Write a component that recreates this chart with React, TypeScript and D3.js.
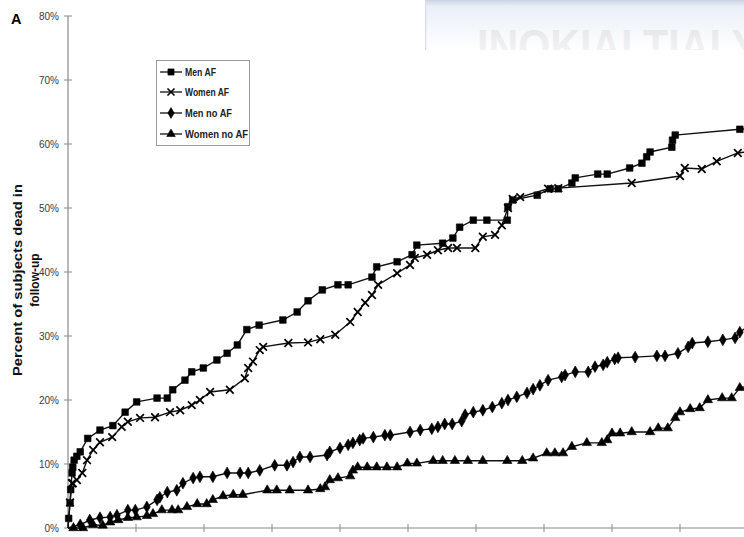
import React, { useEffect, useRef } from 'react';
import * as d3 from 'd3';

// follow-up time in years, percent dead
const menAF: [number, number][] = [
  [0, 0], [0.01, 1.5], [0.03, 3.9], [0.04, 6], [0.06, 8.6], [0.07, 9.5], [0.09, 10.6], [0.13, 11.2],
  [0.18, 11.9], [0.29, 14], [0.47, 15.3], [0.66, 16], [0.84, 18.1], [1.01, 19.7], [1.31, 20.3],
  [1.46, 20.3], [1.54, 21.6], [1.72, 23.1], [1.82, 24.4], [1.99, 25], [2.19, 26.25], [2.34, 27.3],
  [2.49, 28.6], [2.63, 31], [2.81, 31.7], [3.16, 32.5], [3.37, 33.75], [3.53, 35.5], [3.74, 37.2],
  [3.97, 38], [4.12, 38], [4.47, 39.2], [4.54, 40.8], [4.84, 41.6], [5.06, 42.7], [5.13, 44.2],
  [5.51, 44.5], [5.66, 45.3], [5.76, 47], [5.96, 48.1], [6.16, 48.1], [6.46, 48.1], [6.47, 50.2],
  [6.54, 51.25], [6.9, 52], [7.09, 53], [7.21, 53], [7.41, 53.9], [7.46, 54.7], [7.79, 55.3],
  [7.93, 55.3], [8.26, 56.25], [8.44, 57], [8.51, 58], [8.56, 58.75], [8.88, 59.5], [8.89, 60.6],
  [8.93, 61.4], [9.88, 62.3], [10, 62.4],
];

const womenAF: [number, number][] = [
  [0, 0], [0.03, 4], [0.06, 7], [0.07, 7], [0.13, 7.5], [0.21, 8.6], [0.28, 10.6], [0.37, 12.2],
  [0.47, 13.4], [0.65, 14.2], [0.79, 15.8], [0.88, 16.6], [1.06, 17.2], [1.28, 17.3], [1.5, 18.1],
  [1.65, 18.4], [1.82, 19.2], [1.94, 20], [2.09, 21.25], [2.38, 21.6], [2.6, 23.4], [2.65, 25],
  [2.72, 26], [2.82, 27.8], [2.87, 28.3], [3.24, 28.9], [3.53, 29], [3.71, 29.5], [3.93, 30.2],
  [4.15, 32.2], [4.26, 33.75], [4.37, 35.2], [4.47, 36.4], [4.56, 38], [4.84, 39.8], [5.03, 41.1],
  [5.1, 42.2], [5.28, 42.7], [5.44, 43.4], [5.59, 43.75], [5.72, 43.75], [5.99, 43.75], [6.1, 45.5],
  [6.28, 45.8], [6.38, 47.3], [6.47, 50], [6.54, 51.4], [6.65, 51.7], [7.06, 53], [7.21, 53.1],
  [8.29, 53.9], [9.0, 55], [9.07, 56.25], [9.32, 56.1], [9.54, 57.3], [9.85, 58.6], [10, 58.8],
];

const menNoAF: [number, number][] = [
  [0, 0], [0.18, 0.5], [0.32, 1.25], [0.47, 1.6], [0.62, 1.7], [0.72, 2], [0.88, 2.8], [0.99, 2.8],
  [1.16, 3.3], [1.31, 4.4], [1.35, 4.8], [1.46, 5.6], [1.6, 5.9], [1.69, 7], [1.84, 7.8], [1.94, 8],
  [2.13, 8], [2.34, 8.6], [2.53, 8.6], [2.65, 8.6], [2.82, 9], [3.04, 9.8], [3.22, 9.8], [3.31, 10.3],
  [3.41, 11.1], [3.56, 11.1], [3.81, 11.4], [3.85, 11.9], [4.0, 12.5], [4.12, 13], [4.19, 13.3],
  [4.29, 13.75], [4.34, 14], [4.49, 14.2], [4.66, 14.5], [4.74, 14.5], [5.03, 15], [5.18, 15.3],
  [5.35, 15.5], [5.44, 15.8], [5.54, 16.25], [5.65, 16.25], [5.79, 16.7], [5.84, 17.7], [5.96, 18.1],
  [6.1, 18.4], [6.24, 18.9], [6.38, 19.5], [6.47, 20], [6.6, 20.5], [6.75, 21.1], [6.84, 21.7],
  [6.94, 22.3], [7.06, 23.1], [7.26, 23.6], [7.31, 23.9], [7.46, 24.4], [7.65, 24.4], [7.75, 25.2],
  [7.87, 25.5], [7.93, 25.9], [8.04, 26.4], [8.09, 26.6], [8.34, 26.7], [8.66, 26.9], [8.78, 26.9],
  [8.97, 27.3], [9.12, 28.3], [9.18, 28.9], [9.41, 29.1], [9.63, 29.4], [9.81, 29.7], [9.88, 30.6],
  [10, 31.5],
];

const womenNoAF: [number, number][] = [
  [0, 0], [0.08, 0], [0.22, 0], [0.37, 0.5], [0.51, 0.4], [0.62, 0.9], [0.74, 1.25], [0.88, 1.6],
  [1.01, 1.7], [1.16, 1.9], [1.25, 2.2], [1.38, 2.8], [1.53, 2.8], [1.62, 2.8], [1.75, 3.3],
  [1.9, 3.75], [2.04, 3.75], [2.13, 4.4], [2.28, 5], [2.43, 5.2], [2.57, 5.2], [2.93, 5.9],
  [3.07, 5.9], [3.26, 5.9], [3.53, 5.9], [3.71, 6.1], [3.78, 6.4], [3.85, 7.5], [3.97, 7.8],
  [4.15, 8.1], [4.19, 9], [4.26, 9.5], [4.4, 9.5], [4.54, 9.5], [4.69, 9.5], [4.84, 9.5], [4.99, 10.1],
  [5.13, 10.1], [5.37, 10.5], [5.51, 10.5], [5.69, 10.5], [5.88, 10.5], [6.1, 10.5], [6.46, 10.5],
  [6.68, 10.5], [6.84, 10.9], [7.04, 11.7], [7.16, 11.7], [7.28, 11.7], [7.41, 12.7], [7.63, 13.3],
  [7.85, 13.3], [7.93, 13.75], [8.0, 14.8], [8.12, 14.8], [8.29, 15], [8.56, 15], [8.68, 15.6],
  [8.82, 15.6], [8.93, 17.2], [9.0, 18.1], [9.15, 18.6], [9.29, 18.75], [9.41, 20], [9.62, 20.3],
  [9.76, 20.3], [9.88, 21.9], [10, 22.2],
];

const seriesNames = ['Men AF', 'Women AF', 'Men no AF', 'Women no AF'];
const yTicks = [0, 10, 20, 30, 40, 50, 60, 70, 80];
const xTicks = [0, 1, 2, 3, 4, 5, 6, 7, 8, 9, 10];

const App = () => {
  const svgRef = useRef<SVGSVGElement>(null);

  useEffect(() => {
    const width = 744;
    const height = 537;
    const svg = d3.select(svgRef.current);
    svg.selectAll('*').remove();

    const x = d3.scaleLinear().domain([0, 10]).range([68, 748]);
    const y = d3.scaleLinear().domain([0, 80]).range([528, 16]);

    const defs = svg.append('defs');
    const bg = defs.append('linearGradient').attr('id', 'wmBg').attr('x1', 0).attr('y1', 0).attr('x2', 0).attr('y2', 1);
    bg.append('stop').attr('offset', 0).attr('stop-color', '#c9d3e3');
    bg.append('stop').attr('offset', 0.12).attr('stop-color', '#e9eef8');
    bg.append('stop').attr('offset', 1).attr('stop-color', '#ffffff');
    const tg = defs.append('linearGradient').attr('id', 'wmText').attr('x1', 0).attr('y1', 0).attr('x2', 0).attr('y2', 1);
    tg.append('stop').attr('offset', 0).attr('stop-color', '#e2e2e6');
    tg.append('stop').attr('offset', 1).attr('stop-color', '#ffffff');
    defs.append('clipPath').attr('id', 'wmClip')
      .append('rect').attr('x', 425).attr('y', 0).attr('width', 319).attr('height', 50);
    defs.append('clipPath').attr('id', 'plotClip')
      .append('rect').attr('x', 0).attr('y', 0).attr('width', width).attr('height', height);

    // watermark band at the top right
    const wm = svg.append('g').attr('clip-path', 'url(#wmClip)');
    wm.append('rect').attr('x', 425).attr('y', 0).attr('width', 319).attr('height', 50).attr('fill', 'url(#wmBg)');
    wm.append('line').attr('x1', 425.5).attr('x2', 425.5).attr('y1', 4).attr('y2', 50)
      .attr('stroke', '#d6dcea').attr('stroke-width', 1.5);
    wm.append('text')
      .attr('x', 477).attr('y', 62)
      .attr('font-family', 'Liberation Sans, Arial, sans-serif')
      .attr('font-weight', 'bold').attr('font-size', 46)
      .attr('textLength', 282).attr('lengthAdjust', 'spacingAndGlyphs')
      .attr('fill', 'url(#wmText)')
      .text('INOKIALTIAI Y');

    // axes
    const axisColor = '#8a8a8a';
    svg.append('line').attr('x1', x(0)).attr('x2', x(0)).attr('y1', y(80)).attr('y2', y(0))
      .attr('stroke', axisColor).attr('stroke-width', 1.2);
    svg.append('line').attr('x1', x(0)).attr('x2', width).attr('y1', y(0)).attr('y2', y(0))
      .attr('stroke', axisColor).attr('stroke-width', 1.2);

    svg.append('g').selectAll('line').data(yTicks).enter().append('line')
      .attr('x1', x(0) - 4).attr('x2', x(0) + 4)
      .attr('y1', (d) => y(d)).attr('y2', (d) => y(d))
      .attr('stroke', axisColor);
    svg.append('g').selectAll('text').data(yTicks).enter().append('text')
      .attr('x', 59).attr('y', (d) => y(d) + 3.5)
      .attr('text-anchor', 'end')
      .attr('font-family', 'Liberation Sans Narrow, Liberation Sans, Arial, sans-serif')
      .attr('font-size', 10).attr('fill', '#3a3a3a')
      .text((d) => `${d}%`);
    svg.append('g').selectAll('line').data(xTicks.slice(1)).enter().append('line')
      .attr('x1', (d) => x(d)).attr('x2', (d) => x(d))
      .attr('y1', y(0) - 4).attr('y2', y(0) + 4)
      .attr('stroke', axisColor);

    svg.append('text').attr('x', 11).attr('y', 24)
      .attr('font-family', 'Liberation Sans, Arial, sans-serif')
      .attr('font-weight', 'bold').attr('font-size', 14.5).text('A');

    const title = svg.append('g').attr('transform', 'translate(0,280) rotate(-90)')
      .attr('font-family', 'Liberation Sans, Arial, sans-serif')
      .attr('font-weight', 'bold').attr('font-size', 12).attr('fill', '#111')
      .attr('text-anchor', 'middle');
    title.append('text').attr('x', 0).attr('y', 22)
      .attr('textLength', 192).attr('lengthAdjust', 'spacingAndGlyphs')
      .text('Percent of subjects dead in');
    title.append('text').attr('x', 0).attr('y', 39).text('follow-up');

    // series
    const allSeries = [menAF, womenAF, menNoAF, womenNoAF];
    const symbols = [d3.symbolSquare, d3.symbolTimes, d3.symbolDiamond, d3.symbolTriangle];
    const sizes = [44, 40, 40, 38];
    const line = d3.line<[number, number]>().x((d) => x(d[0])).y((d) => y(d[1]));

    const plot = svg.append('g').attr('clip-path', 'url(#plotClip)');
    allSeries.forEach((data, i) => {
      plot.append('path').datum(data).attr('d', line)
        .attr('fill', 'none').attr('stroke', '#111').attr('stroke-width', 1.4);
      const sym = d3.symbol().type(symbols[i]).size(sizes[i]);
      plot.append('g').selectAll('path').data(data.slice(1)).enter().append('path')
        .attr('transform', (d) => `translate(${x(d[0])},${y(d[1])})`)
        .attr('d', sym)
        .attr('fill', i === 1 ? 'none' : '#000')
        .attr('stroke', '#000')
        .attr('stroke-width', i === 1 ? 1.7 : 0.6);
    });

    // legend
    const legend = svg.append('g');
    legend.append('rect').attr('x', 156.5).attr('y', 60.5).attr('width', 93).attr('height', 85)
      .attr('fill', 'white').attr('stroke', '#9a9a9a');
    const rowY = [72, 92, 113, 134];
    const textW = [31, 44, 47, 63];
    seriesNames.forEach((name, i) => {
      legend.append('line').attr('x1', 160).attr('x2', 182).attr('y1', rowY[i]).attr('y2', rowY[i])
        .attr('stroke', '#111').attr('stroke-width', 1.3);
      legend.append('path')
        .attr('transform', `translate(171,${rowY[i]})`)
        .attr('d', d3.symbol().type(symbols[i]).size(sizes[i] - 6)())
        .attr('fill', i === 1 ? 'none' : '#000').attr('stroke', '#000')
        .attr('stroke-width', i === 1 ? 1.6 : 0.6);
      legend.append('text').attr('x', 185).attr('y', rowY[i] + 3.5)
        .attr('font-family', 'Liberation Sans Narrow, Liberation Sans, Arial, sans-serif')
        .attr('font-weight', 'bold').attr('font-size', 10).attr('fill', '#222')
        .attr('textLength', textW[i]).attr('lengthAdjust', 'spacingAndGlyphs')
        .text(name);
    });
  }, []);

  return (
    <svg
      ref={svgRef}
      width={744}
      height={537}
      style={{ position: 'absolute', left: 0, top: 0, background: '#fff' }}
    />
  );
};

export default App;
